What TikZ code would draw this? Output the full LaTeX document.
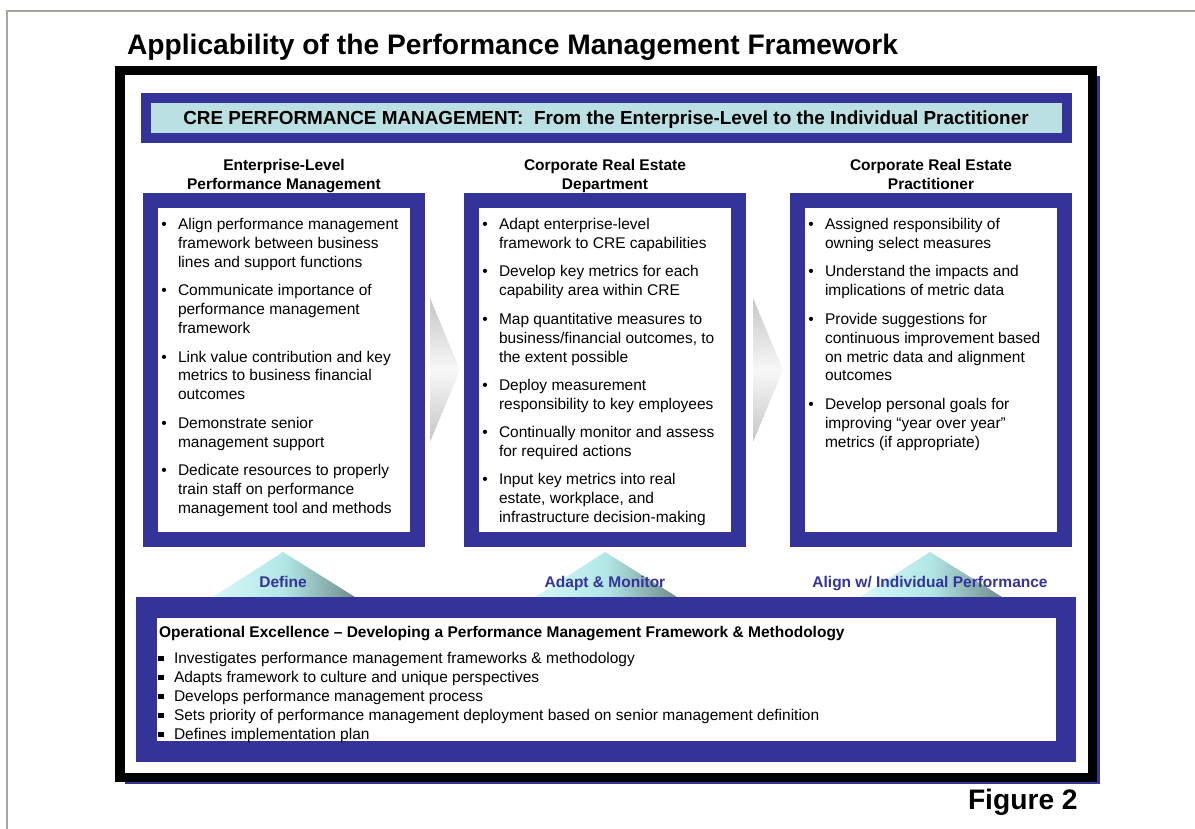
\documentclass[tikz,border=0pt]{standalone}
\usepackage{fontspec}
\setmainfont{Liberation Sans}

\definecolor{cre}{RGB}{51,51,153}
\definecolor{creband}{RGB}{187,224,228}
\definecolor{pagerule}{RGB}{165,165,155}
\definecolor{pyrlight}{RGB}{214,248,248}
\definecolor{pyrmid}{RGB}{178,230,230}
\definecolor{pyrdark}{RGB}{112,140,138}

\tikzset{
  tight/.style={inner sep=0pt, outer sep=0pt},
  panel/.style={tight, draw=cre, fill=white, line width=15pt, minimum width=267pt, minimum height=339pt},
  body/.style={tight, anchor=base west, font=\fontsize{15.5}{19}\selectfont},
  bulletmark/.style={tight, anchor=base, font=\fontsize{15.5}{19}\selectfont},
  colhead/.style={tight, anchor=base, font=\bfseries\fontsize{15.5}{19}\selectfont},
  stage/.style={tight, anchor=base, text=cre, font=\bfseries\fontsize{15.5}{19}\selectfont},
  sqmark/.style={tight, fill=black, minimum size=5.5pt},
  chevron/.style={top color=gray!45, bottom color=gray!45, middle color=gray!6},
  pyramid/.style={left color=pyrlight, right color=pyrdark, middle color=pyrmid},
  bigtitle/.style={tight, anchor=base west, font=\bfseries\fontsize{28.2}{32}\selectfont},
}

% multi-line blocks whose baseline is the first line
\newcommand\linesL[1]{\begin{tabular}[t]{@{}l@{}}#1\end{tabular}}
\newcommand\linesC[1]{\begin{tabular}[t]{@{}c@{}}#1\end{tabular}}

% bullet item inside a column panel: name, x of bullet, baseline, text
\newcommand\crebullet[4]{%
  \node[bulletmark] (#1-mark) at (#2,#3) {\textbullet};
  \node[body] (#1) at (#2+14,#3) {\linesL{#4}};}
% square-bullet item in the operations panel: name, baseline, text
\newcommand\opsitem[3]{%
  \node[sqmark] (#1-mark) at (161,#2-4.5) {};
  \node[body] (#1) at (174,#2) {#3};}

\begin{document}
\begin{tikzpicture}[x=1pt, y=-1pt]
\useasboundingbox (0,0) rectangle (1195,829);
\fill[white] (0,0) rectangle (1195,829);

% page rule
\draw[pagerule, line width=2pt] (7,829) -- (7,11) -- (1195,11);

% title
\node[bigtitle] (title) at (127,55) {Applicability of the Performance Management Framework};

% main frame with its shadow
\fill[cre] (125,76) rectangle (1100,784);
\node[tight, draw=black, fill=white, line width=9.5pt, minimum width=972.5pt, minimum height=706.5pt] (frame) at (606,424) {};

% banner
\node[tight, draw=cre, fill=creband, line width=10pt, minimum width=921pt, minimum height=40pt] (banner) at (606.5,118) {};
\node[tight, anchor=base, font=\bfseries\fontsize{18.9}{20}\selectfont] (bannertext) at (606,125)
  {CRE PERFORMANCE MANAGEMENT:\ \ From the Enterprise-Level to the Individual Practitioner};

% column headings
\node[colhead] (head1) at (284,171) {\linesC{Enterprise-Level\\Performance Management}};
\node[colhead] (head2) at (605,171) {\linesC{Corporate Real Estate\\Department}};
\node[colhead] (head3) at (931,171) {\linesC{Corporate Real Estate\\Practitioner}};

% column panels
\node[panel] (box1) at (284,370) {};
\node[panel] (box2) at (605,370) {};
\node[panel] (box3) at (931,370) {};

% enterprise level
\crebullet{e1}{164}{230}{Align performance management\\framework between business\\lines and support functions}
\crebullet{e2}{164}{296}{Communicate importance of\\performance management\\framework}
\crebullet{e3}{164}{362}{Link value contribution and key\\metrics to business financial\\outcomes}
\crebullet{e4}{164}{428}{Demonstrate senior\\management support}
\crebullet{e5}{164}{475}{Dedicate resources to properly\\train staff on performance\\management tool and methods}

% department
\crebullet{d1}{485}{230}{Adapt enterprise-level\\framework to CRE capabilities}
\crebullet{d2}{485}{277}{Develop key metrics for each\\capability area within CRE}
\crebullet{d3}{485}{324}{Map quantitative measures to\\business/financial outcomes, to\\the extent possible}
\crebullet{d4}{485}{390}{Deploy measurement\\responsibility to key employees}
\crebullet{d5}{485}{437}{Continually monitor and assess\\for required actions}
\crebullet{d6}{485}{484}{Input key metrics into real\\estate, workplace, and\\infrastructure decision-making}

% practitioner
\crebullet{p1}{811}{230}{Assigned responsibility of\\owning select measures}
\crebullet{p2}{811}{277}{Understand the impacts and\\implications of metric data}
\crebullet{p3}{811}{324}{Provide suggestions for\\continuous improvement based\\on metric data and alignment\\outcomes}
\crebullet{p4}{811}{409}{Develop personal goals for\\improving “year over year”\\metrics (if appropriate)}

% flow chevrons between panels
\shade[chevron] (430,298) -- (460,370) -- (430,442) -- cycle;
\shade[chevron] (753,298) -- (783,370) -- (753,442) -- cycle;

% stage pyramids
\shade[pyramid] (213,597) -- (283,552) -- (355,597) -- cycle;
\shade[pyramid] (535,597) -- (605,552) -- (677,597) -- cycle;
\shade[pyramid] (860,597) -- (930,552) -- (1002,597) -- cycle;

\node[stage] (define) at (283,587) {Define};
\node[stage] (adapt) at (605,587) {Adapt \& Monitor};
\node[stage] (align) at (930,587) {Align w/ Individual Performance};

% operational excellence panel
\node[tight, draw=cre, fill=white, line width=20.5pt, minimum width=919.5pt, minimum height=144pt] (ops) at (606,679.25) {};
\node[tight, anchor=base west, font=\bfseries\fontsize{15.5}{19}\selectfont] (opshead) at (159,637)
  {Operational Excellence – Developing a Performance Management Framework \& Methodology};
\opsitem{o1}{663}{Investigates performance management frameworks \& methodology}
\opsitem{o2}{682}{Adapts framework to culture and unique perspectives}
\opsitem{o3}{701}{Develops performance management process}
\opsitem{o4}{720}{Sets priority of performance management deployment based on senior management definition}
\opsitem{o5}{739}{Defines implementation plan}

% figure label
\node[bigtitle] (figlabel) at (968,809) {Figure 2};
\end{tikzpicture}
\end{document}
